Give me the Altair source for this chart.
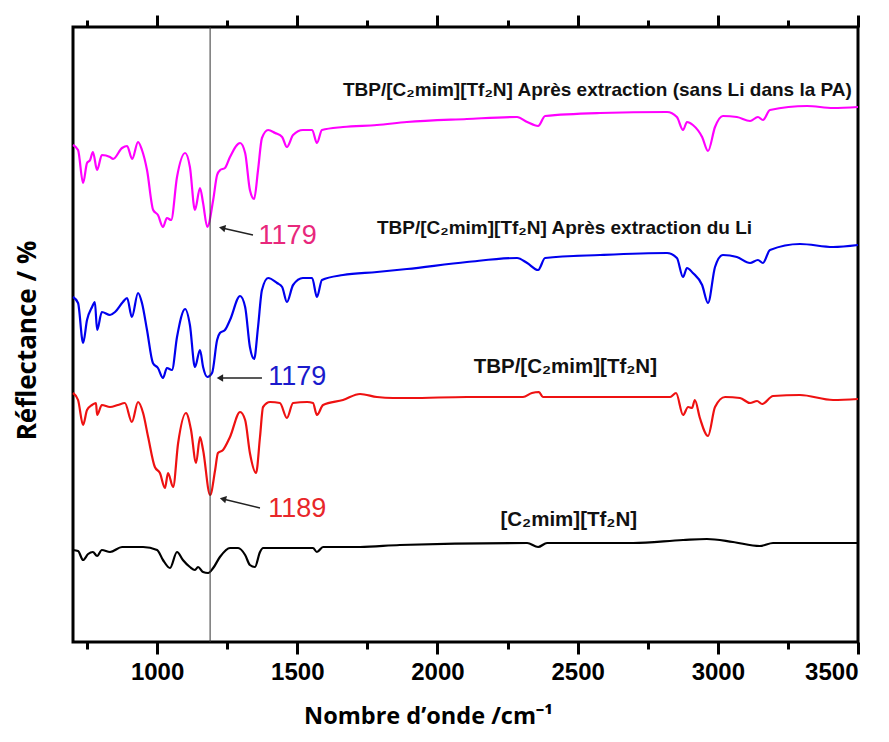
import altair as alt
import pandas as pd

# ---------------- data ----------------
# wavenumber (cm-1) / reflectance (arbitrary offset units)
mag_wn = [700, 718, 736, 750, 761, 771, 786, 803, 832, 843, 875, 893, 911, 932, 946, 964, 986, 1003,
          1021, 1035, 1050, 1071, 1100, 1117, 1135, 1153, 1164, 1179, 1200, 1214, 1225, 1242, 1260,
          1296, 1314, 1331, 1346, 1360, 1374, 1396, 1421, 1446, 1463, 1485, 1520, 1553, 1570, 1588,
          1663, 1784, 1891, 2105, 2284, 2320, 2359, 2384, 2580, 2819, 2854, 2876, 2890, 2911, 2944,
          2965, 2990, 3018, 3068, 3115, 3143, 3161, 3186, 3318, 3411, 3500]
mag_r = [49.7, 49.2, 45.9, 47.9, 48.2, 49.0, 47.2, 48.7, 48.5, 48.3, 49.4, 49.6, 48.3, 50.0, 49.2, 47.2,
         43.2, 42.7, 41.5, 42.4, 42.2, 46.5, 48.9, 47.5, 43.2, 45.4, 43.9, 41.5, 44.2, 46.7, 47.2, 47.4,
         48.5, 49.9, 48.9, 45.2, 44.3, 47.2, 50.4, 51.2, 50.9, 50.5, 49.5, 50.7, 51.2, 51.2, 49.9, 51.2,
         51.5, 51.7, 52.0, 52.3, 52.5, 52.0, 51.6, 52.6, 52.9, 53.0, 52.5, 51.2, 52.0, 51.7, 50.5,
         49.1, 51.5, 52.6, 52.5, 52.1, 52.5, 52.2, 53.2, 53.6, 53.4, 53.5]

blue_wn = [700, 718, 736, 750, 768, 778, 786, 803, 832, 850, 878, 893, 910, 932, 946, 964, 985, 1003,
           1021, 1035, 1053, 1071, 1100, 1117, 1135, 1153, 1164, 1179, 1196, 1214, 1224, 1242, 1260,
           1296, 1314, 1331, 1346, 1360, 1374, 1396, 1428, 1446, 1463, 1485, 1520, 1553, 1570, 1588,
           1663, 1784, 1891, 2105, 2284, 2320, 2359, 2384, 2580, 2819, 2854, 2876, 2890, 2911, 2944,
           2965, 2990, 3018, 3068, 3115, 3143, 3161, 3186, 3293, 3411, 3500]
blue_r = [34.5, 33.9, 29.9, 32.2, 33.5, 34.0, 31.2, 33.0, 32.7, 33.0, 34.0, 34.4, 32.5, 34.9, 33.9, 31.2,
          27.9, 27.4, 26.4, 27.4, 27.2, 30.5, 33.3, 31.7, 27.5, 29.2, 27.5, 26.5, 26.9, 30.2, 30.9, 31.2,
          32.2, 34.6, 33.5, 29.5, 28.3, 31.5, 35.2, 36.4, 35.9, 35.5, 34.0, 35.7, 36.4, 36.4, 34.5, 36.2,
          36.7, 37.0, 37.3, 38.0, 38.4, 37.9, 37.2, 38.4, 38.7, 38.9, 38.4, 36.5, 37.4, 36.9, 35.7,
          33.9, 37.5, 38.7, 38.5, 37.9, 38.2, 37.9, 39.2, 39.8, 39.5, 39.7]

red_wn = [700, 718, 736, 750, 768, 782, 786, 803, 832, 860, 885, 910, 932, 950, 968, 992, 1010, 1028,
          1039, 1057, 1075, 1103, 1121, 1139, 1153, 1164, 1189, 1207, 1217, 1235, 1260, 1296, 1314,
          1331, 1353, 1367, 1378, 1403, 1438, 1463, 1485, 1535, 1556, 1570, 1592, 1663, 1724, 1784,
          1841, 1902, 2105, 2305, 2337, 2362, 2376, 2580, 2830, 2851, 2876, 2894, 2908, 2918, 2936,
          2965, 2990, 3026, 3079, 3115, 3140, 3158, 3197, 3293, 3411, 3500]
red_r = [24.9, 24.2, 21.7, 23.2, 23.7, 23.9, 22.7, 23.7, 23.5, 23.7, 23.9, 22.0, 24.0, 22.9, 20.5, 17.5,
         16.9, 15.4, 16.9, 15.5, 19.9, 22.9, 21.2, 17.9, 20.5, 19.2, 14.7, 17.2, 18.9, 19.2, 20.5, 23.0,
         22.2, 18.9, 16.9, 20.5, 23.5, 24.0, 23.9, 22.4, 23.9, 24.0, 23.9, 22.7, 23.7, 24.2, 24.8, 24.5,
         24.4, 24.4, 24.5, 24.5, 24.9, 25.0, 24.5, 24.5, 24.5, 24.9, 22.7, 23.5, 23.4, 24.2, 22.4,
         20.6, 23.5, 24.5, 24.4, 23.9, 24.1, 23.8, 24.6, 24.7, 24.2, 24.3]

black_wn = [700, 718, 736, 754, 771, 786, 803, 832, 875, 950, 1000, 1021, 1046, 1071, 1092, 1117, 1135,
            1146, 1164, 1182, 1200, 1224, 1260, 1289, 1314, 1331, 1349, 1367, 1378, 1485, 1556, 1570,
            1592, 1724, 1866, 2320, 2359, 2391, 2698, 2876, 2961, 3054, 3150, 3197, 3500]
black_r = [9.2, 9.1, 8.2, 8.8, 9.0, 8.6, 9.2, 9.0, 9.5, 9.5, 9.2, 8.2, 7.4, 9.0, 8.2, 7.5, 7.2,
           7.5, 7.0, 6.9, 7.4, 8.5, 9.4, 9.4, 8.7, 7.7, 7.5, 9.0, 9.4, 9.4, 9.4, 9.0,
           9.5, 9.5, 9.7, 9.9, 9.5, 9.9, 9.9, 10.2, 10.3, 10.0, 9.6, 9.9, 9.9]

series_names = ["TBP/[C2mim][Tf2N] Après extraction (sans Li dans la PA)",
                "TBP/[C2mim][Tf2N] Après extraction du Li",
                "TBP/[C2mim][Tf2N]",
                "[C2mim][Tf2N]"]
series_colors = ["#ff00ff", "#0000ee", "#ee1111", "#000000"]

# curve labels
label_text = ["TBP/[C₂mim][Tf₂N] Après extraction (sans Li dans la PA)",
              "TBP/[C₂mim][Tf₂N] Après extraction du Li",
              "TBP/[C₂mim][Tf₂N]",
              "[C₂mim][Tf₂N]"]
label_wn = [3478, 3122, 2783, 2712]
label_r = [55.2, 41.4, 27.5, 12.2]
label_size = [19, 19, 20.5, 20.5]

# peak annotations
peak_text = ["1179", "1179", "1189"]
peak_colors = ["#e8287c", "#1a1acc", "#e8262a"]
peak_wn = [1362, 1396, 1396]
peak_r = [40.6, 26.5, 13.3]
arrow_tail_wn = [1342, 1374, 1367]
arrow_tail_r = [40.7, 26.4, 13.4]
arrow_head_wn = [1232, 1224, 1235]
arrow_head_r = [41.4, 26.4, 14.3]
arrow_angle = [282, 270, 283]

marker_wn = [1189]

x_major = [1000, 1500, 2000, 2500, 3000, 3500]
x_minor = [750, 1250, 1750, 2250, 2750, 3250]
X_DOMAIN = [700, 3500]
Y_DOMAIN = [0, 61.5]

# ---------------- tables ----------------
rows = []
for name, wn, rr in zip(series_names, [mag_wn, blue_wn, red_wn, black_wn],
                        [mag_r, blue_r, red_r, black_r]):
    for w, v in zip(wn, rr):
        rows.append({"series": name, "wn": w, "r": v})
spectra = pd.DataFrame(rows)

labels_df = pd.DataFrame({"wn": label_wn, "r": label_r, "txt": label_text, "fs": label_size})
peaks_df = pd.DataFrame({"wn": peak_wn, "r": peak_r, "txt": peak_text, "col": peak_colors})
arrow_rows = []
for i in range(len(arrow_tail_wn)):
    arrow_rows.append({"id": i, "wn": arrow_tail_wn[i], "r": arrow_tail_r[i]})
    arrow_rows.append({"id": i, "wn": arrow_head_wn[i], "r": arrow_head_r[i]})
arrows_df = pd.DataFrame(arrow_rows)
heads_df = pd.DataFrame({"wn": arrow_head_wn, "r": arrow_head_r, "ang": arrow_angle})
marker_df = pd.DataFrame({"wn": marker_wn})

xscale = alt.Scale(domain=X_DOMAIN, nice=False, zero=False)
yscale = alt.Scale(domain=Y_DOMAIN, nice=False, zero=False)

TITLE_FONT = "Open Sans"
TICK_FONT = "Liberation Sans"


def tick_axis(orient, values, size, show_labels=False, title=""):
    kw = dict(orient=orient, values=values, tickSize=size, tickWidth=3, tickColor="black",
              labels=show_labels, domain=False, grid=False, title=title)
    if show_labels:
        kw.update(format="d", labelFont=TICK_FONT, labelFontSize=24, labelFontWeight="bold",
                  labelColor="black", labelPadding=6,
                  titleFont=TITLE_FONT, titleFontSize=23.5, titleFontWeight="bold",
                  titleColor="black", titleX=355, titleY=74, titleBaseline="middle")
    return alt.Axis(**kw)


lines = alt.Chart(spectra).mark_line(strokeWidth=2.2, interpolate="monotone").encode(
    x=alt.X("wn:Q", scale=xscale, axis=tick_axis("bottom", x_major, 12, True, "Nombre d’onde /cm⁻¹")),
    y=alt.Y("r:Q", scale=yscale,
            axis=alt.Axis(title="Réflectance / %", ticks=False, labels=False, domain=False, grid=False,
                          titleFont=TITLE_FONT, titleFontSize=26, titleFontWeight="bold",
                          titleColor="black", titleX=-46, titleY=313, titleAngle=270,
                          titleBaseline="middle")),
    color=alt.Color("series:N", scale=alt.Scale(domain=series_names, range=series_colors), legend=None),
    detail="series:N",
)

marker = alt.Chart(marker_df).mark_rule(color="#333333", strokeWidth=1).encode(
    x=alt.X("wn:Q", scale=xscale, axis=tick_axis("bottom", x_minor, 7)),
)

labels = alt.Chart(labels_df).mark_text(
    align="right", baseline="middle", font=TICK_FONT, fontWeight="bold", color="#111111"
).encode(
    x=alt.X("wn:Q", scale=xscale, axis=tick_axis("top", x_major, 12)),
    y=alt.Y("r:Q", scale=yscale, axis=None),
    text="txt:N",
    size=alt.Size("fs:Q", scale=None),
)

peaks = alt.Chart(peaks_df).mark_text(
    align="left", baseline="middle", font=TICK_FONT, fontSize=27
).encode(
    x=alt.X("wn:Q", scale=xscale, axis=tick_axis("top", x_minor, 7)),
    y=alt.Y("r:Q", scale=yscale, axis=None),
    text="txt:N",
    color=alt.Color("col:N", scale=None),
)

shafts = alt.Chart(arrows_df).mark_line(color="#222222", strokeWidth=1.3).encode(
    x=alt.X("wn:Q", scale=xscale, axis=None),
    y=alt.Y("r:Q", scale=yscale, axis=None),
    detail="id:N",
)

heads = alt.Chart(heads_df).mark_point(
    shape="triangle-up", filled=True, color="#222222", size=55, opacity=1
).encode(
    x=alt.X("wn:Q", scale=xscale, axis=None),
    y=alt.Y("r:Q", scale=yscale, axis=None),
    angle=alt.Angle("ang:Q", scale=None),
)

chart = alt.layer(lines, marker, labels, peaks, shafts, heads).resolve_axis(
    x="independent", y="independent"
).properties(
    width=785, height=615,
    padding={"left": 65, "top": 19, "right": 23, "bottom": 92},
    autosize=alt.AutoSizeParams(type="none"),
    background="white",
).configure_view(
    stroke="black", strokeWidth=3
)

chart.save("out.html", embed_options={"renderer": "svg", "actions": False})
